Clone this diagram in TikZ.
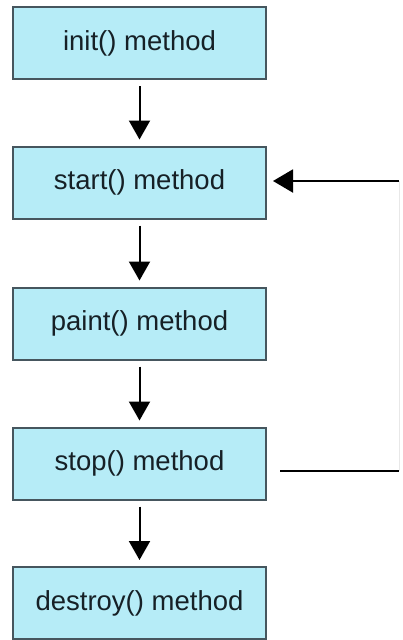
\documentclass[tikz,border=0pt]{standalone}
\usepackage{fontspec}
\setmainfont{Liberation Sans}
\usetikzlibrary{arrows.meta}

\tikzset{every picture/.style={line width=0.75pt}}
\tikzset{
  method/.style={draw={rgb, 255:red, 70; green, 86; blue, 94}, fill={rgb, 255:red, 182; green, 236; blue, 247}, line width=2, minimum width=253, minimum height=72, inner sep=0, font=\fontsize{27.5}{32}\selectfont, text={rgb, 255:red, 22; green, 32; blue, 38}},
  flow/.style={-{Triangle[width=21,length=19]}, line width=2, shorten <=6, shorten >=6},
}

\begin{document}
\begin{tikzpicture}[x=1pt,y=1pt,yscale=-1]
\useasboundingbox (0,0) rectangle (402,640);

% Boxes
\node [method] (init) at (139.5,43) {init() method};
\node [method] (start) at (139.5,182.5) {start() method};
\node [method] (paint) at (139.5,323.5) {paint() method};
\node [method] (stop) at (139.5,463.5) {stop() method};
\node [method] (destroy) at (139.5,603) {destroy() method};

% Straight Lines
\draw [flow] (init) -- (start);
\draw [flow] (start) -- (paint);
\draw [flow] (paint) -- (stop);
\draw [flow] (stop) -- (destroy);

% loop back from stop to start
\coordinate (loopin) at (399,181);
\coordinate (loopout) at (399,471);
\draw [line width=2, shorten <=13] (stop.east |- loopout) -- (loopout);
\draw [color={rgb, 255:red, 232; green, 232; blue, 232}, line width=1] (loopout) -- (loopin);
\draw [line width=2, shorten >=6, -{Triangle[width=23,length=20]}] (loopin) -- (start.east |- loopin);

\end{tikzpicture}
\end{document}
